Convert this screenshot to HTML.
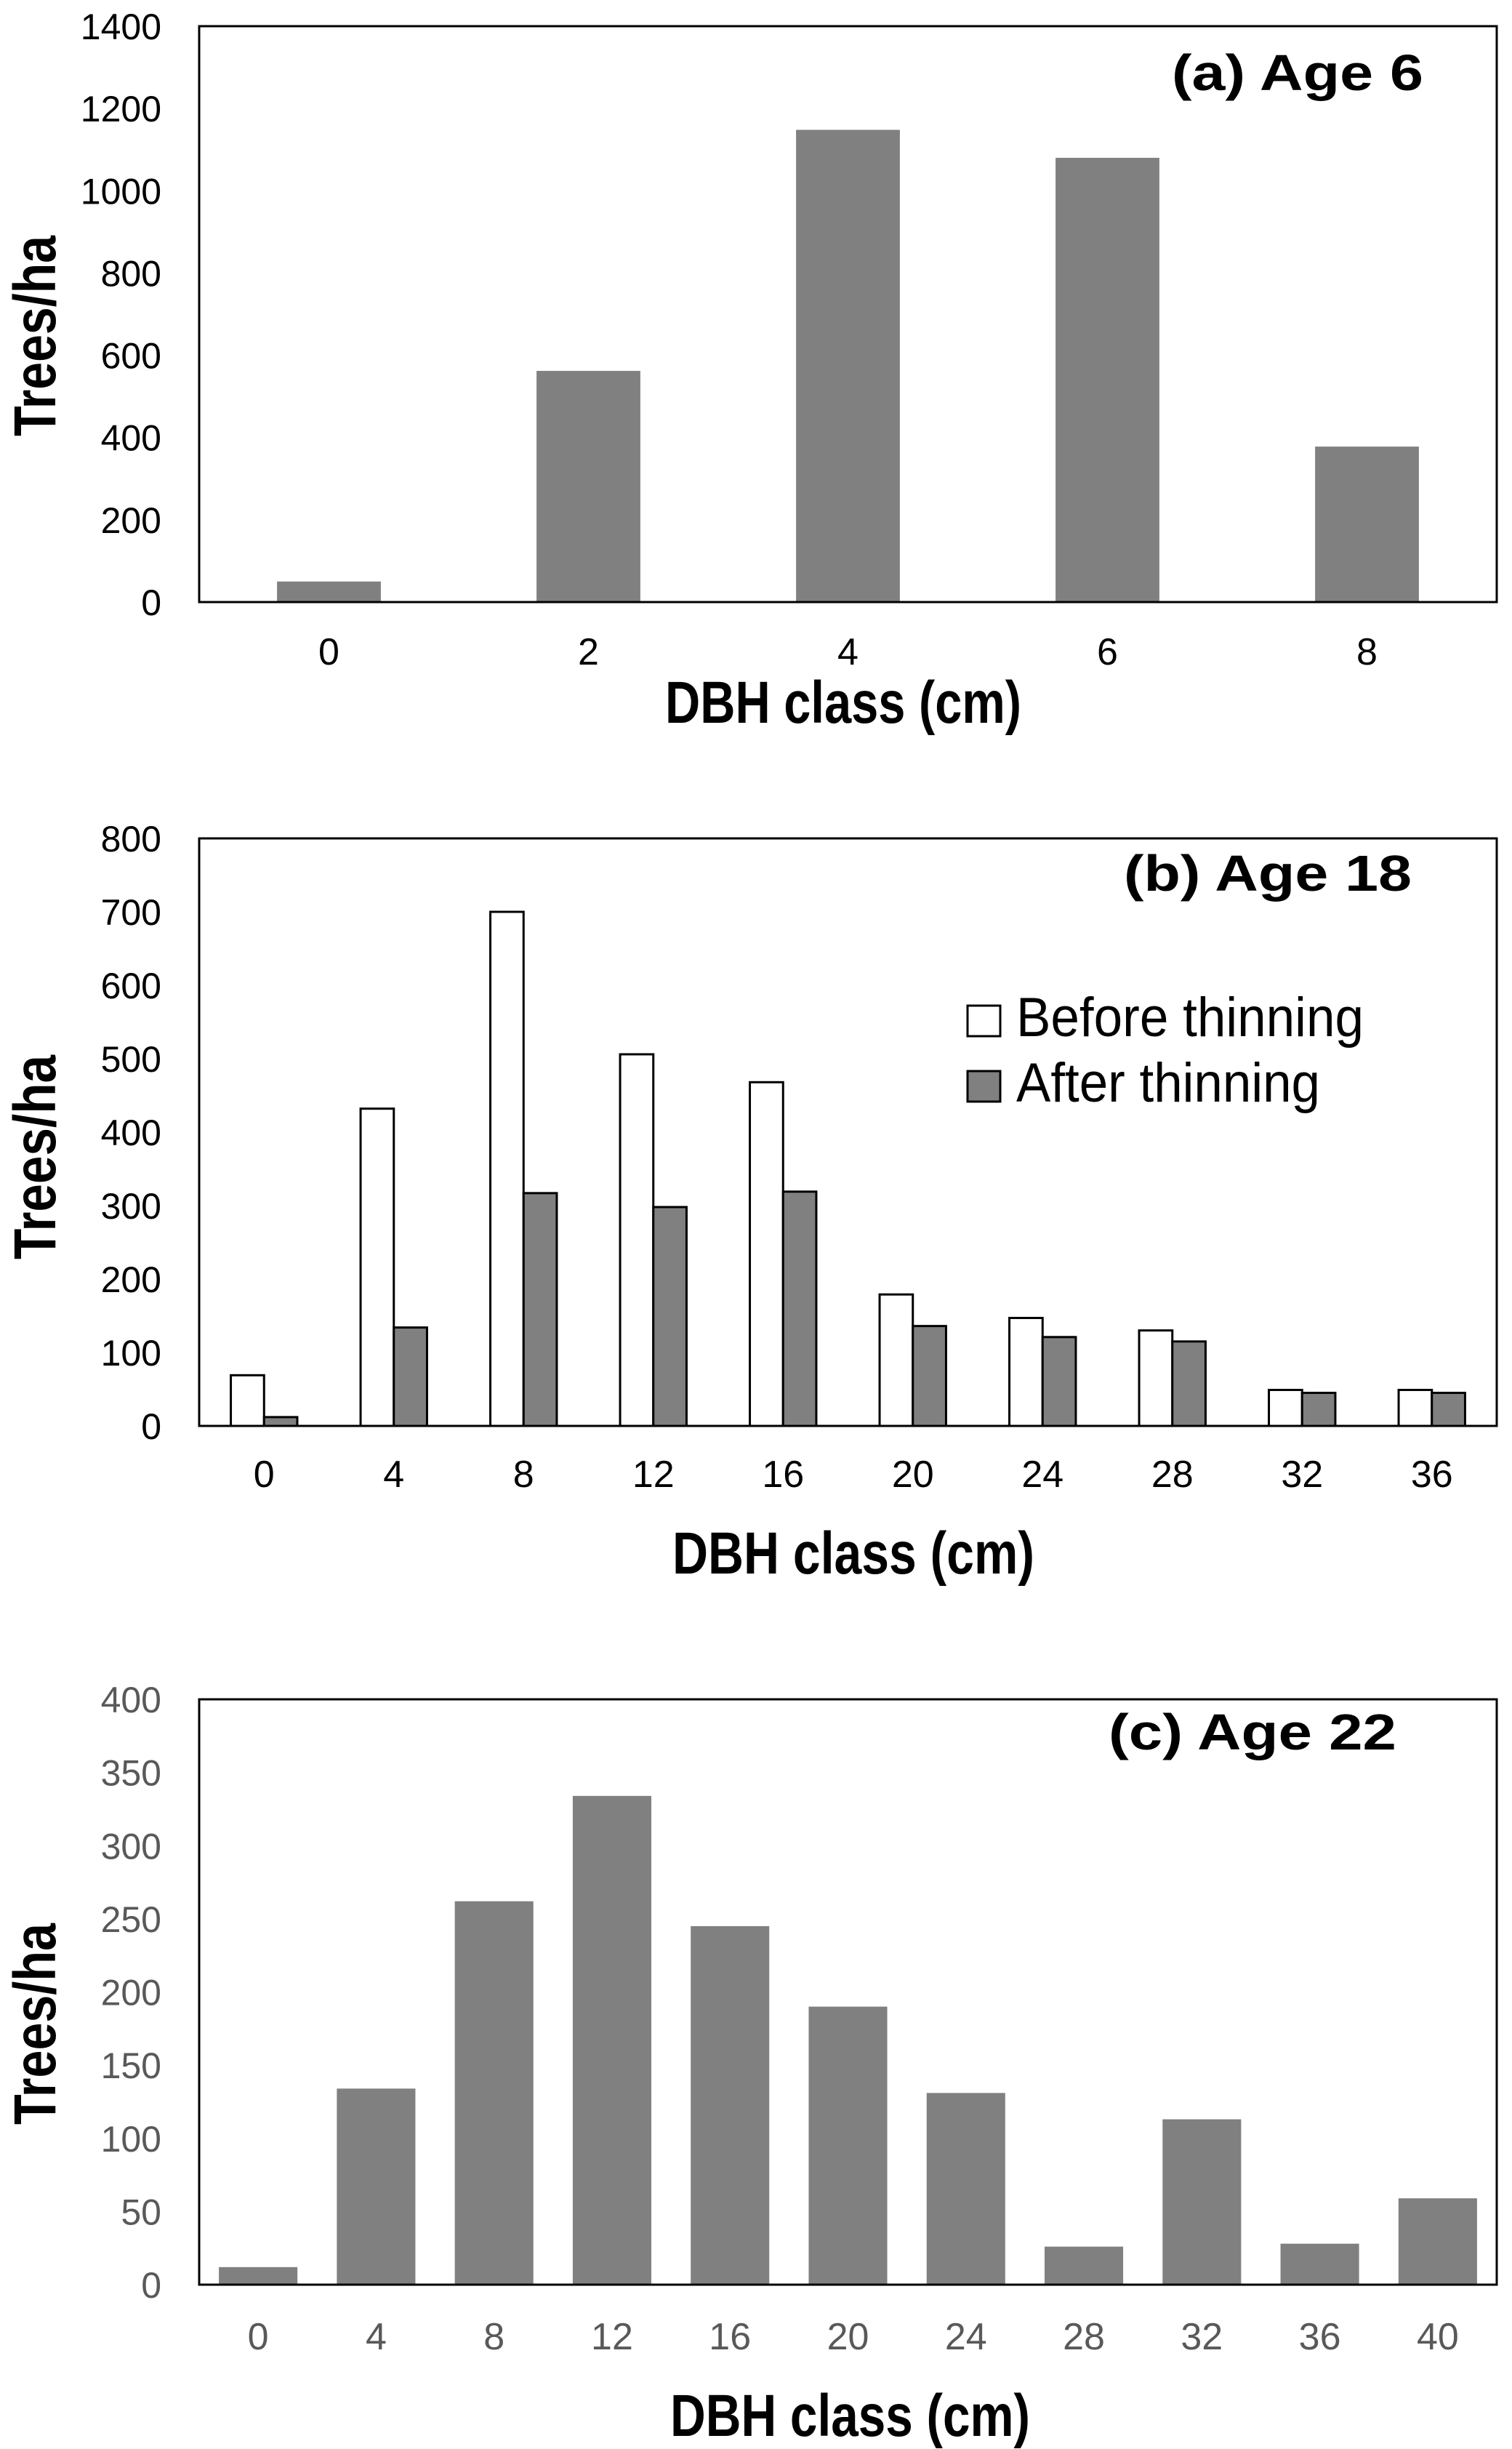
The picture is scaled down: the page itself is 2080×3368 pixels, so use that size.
<!DOCTYPE html>
<html><head><meta charset="utf-8"><style>
html,body{margin:0;padding:0;background:#fff;}
svg{display:block;}
text{font-family:"Liberation Sans",sans-serif;}
</style></head><body>
<svg id="fig" width="2080" height="3368" viewBox="0 0 2080 3368" xmlns="http://www.w3.org/2000/svg"></svg>
<script>
// Panel (a) data
const catsA = ["0","2","4","6","8"];
const valsA = [50, 562, 1148, 1080, 378];
const ticksA = [0,200,400,600,800,1000,1200,1400];
// Panel (b) data
const catsB = ["0","4","8","12","16","20","24","28","32","36"];
const beforeB = [69, 432, 700, 506, 468, 179, 147, 130, 49, 49];
const afterB = [12, 134, 317, 298, 319, 136, 121, 115, 45, 45];
const ticksB = [0,100,200,300,400,500,600,700,800];
// Panel (c) data
const catsC = ["0","4","8","12","16","20","24","28","32","36","40"];
const valsC = [12, 134, 262, 334, 245, 190, 131, 26, 113, 28, 59];
const ticksC = [0,50,100,150,200,250,300,350,400];

const NS = "http://www.w3.org/2000/svg";
const svg = document.getElementById("fig");
function mk(tag, attrs, parent){
  const e = document.createElementNS(NS, tag);
  for (const k in attrs) e.setAttribute(k, attrs[k]);
  (parent||svg).appendChild(e);
  return e;
}
function txt(s, attrs, parent){ const t = mk("text", attrs, parent); t.textContent = s; return t; }

function panel(cfg){
  const g = mk("g", {});
  
  
  const L=274, R=2059, T=cfg.top, B=cfg.bottom;
  const ymax = cfg.ticks[cfg.ticks.length-1];
  const y = v => B - (v/ymax)*(B-T);
  const band = (R-L)/cfg.cats.length;
  const xc = i => L + band*(i+0.5);
  const fr = mk("rect",{x:L,y:T,width:R-L,height:B-T,fill:"none",stroke:"#000","stroke-width":3},g);
  
  
  cfg.ticks.forEach(t=>{
    const e = txt(String(t),{x:222,y:y(t)+18,"text-anchor":"end","font-size":50,fill:cfg.tickColor},g);
    
    
  });
  cfg.cats.forEach((c,i)=>{
    const e = txt(c,{x:xc(i),y:cfg.xTickY+19,"text-anchor":"middle","font-size":52,fill:cfg.tickColor},g);
    
    
  });
  if (cfg.before){
    const w = band*0.256;
    cfg.cats.forEach((c,i)=>{
      const b1 = mk("rect",{x:xc(i)-w,y:y(cfg.before[i]),width:w,height:B-y(cfg.before[i]),fill:"#fff",stroke:"#000","stroke-width":3},g);
      
      
      const b2 = mk("rect",{x:xc(i),y:y(cfg.after[i]),width:w,height:B-y(cfg.after[i]),fill:"#808080",stroke:"#000","stroke-width":3},g);
      
      
    });
  } else {
    const w = band*cfg.barFrac;
    cfg.cats.forEach((c,i)=>{
      const b = mk("rect",{x:xc(i)-w/2,y:y(cfg.vals[i]),width:w,height:B-y(cfg.vals[i])-1.5,fill:"#808080"},g);
      
      
    });
  }
  mk("line",{x1:L,x2:R,y1:B,y2:B,stroke:"#000","stroke-width":3},g);
  const pt = txt(cfg.title,{x:cfg.titleX,y:cfg.titleY,"font-size":70,"font-weight":"bold",textLength:cfg.titleW,lengthAdjust:"spacingAndGlyphs","xml:space":"preserve"},g);
  
  
  const xt = txt("DBH class (cm)",{x:cfg.xtX,y:cfg.xtY,"font-size":82,"font-weight":"bold",textLength:cfg.xtW,lengthAdjust:"spacingAndGlyphs"},g);
  
  
  const yt = txt("Trees/ha",{x:0,y:0,"font-size":82,"font-weight":"bold",textLength:cfg.ytH,lengthAdjust:"spacingAndGlyphs",transform:`translate(76,${cfg.ytBottom}) rotate(-90)`},g);
  
  
  return g;
}

panel({name:"chart-age-6",top:36,bottom:828,cats:catsA,vals:valsA,ticks:ticksA,barFrac:0.4,tickColor:"#000",xTickY:895,
  title:"(a)  Age 6",titleX:1612,titleY:124,titleW:346,xtX:915,xtY:994,xtW:490,ytBottom:600,ytH:276});
const gb = panel({name:"chart-age-18",top:1153,bottom:1961,cats:catsB,before:beforeB,after:afterB,ticks:ticksB,tickColor:"#000",xTickY:2026,
  title:"(b)  Age 18",titleX:1546,titleY:1225,titleW:396,xtX:925,xtY:2164,xtW:498,ytBottom:1732,ytH:281});
panel({name:"chart-age-22",top:2337,bottom:3142,cats:catsC,vals:valsC,ticks:ticksC,barFrac:0.666,tickColor:"#595959",xTickY:3212,
  title:"(c)  Age 22",titleX:1525,titleY:2406,titleW:396,xtX:922,xtY:3350,xtW:495,ytBottom:2922,ytH:277});

const leg = mk("g",{},gb);


const s1 = mk("rect",{x:1331,y:1383,width:45,height:42,fill:"#fff",stroke:"#000","stroke-width":3},leg);


const l1 = txt("Before thinning",{x:1398,y:1425,"font-size":76,textLength:478,lengthAdjust:"spacingAndGlyphs"},leg);


const s2 = mk("rect",{x:1331,y:1473,width:45,height:42,fill:"#808080",stroke:"#000","stroke-width":3},leg);


const l2 = txt("After thinning",{x:1398,y:1515,"font-size":76,textLength:418,lengthAdjust:"spacingAndGlyphs"},leg);


</script>
</body></html>
